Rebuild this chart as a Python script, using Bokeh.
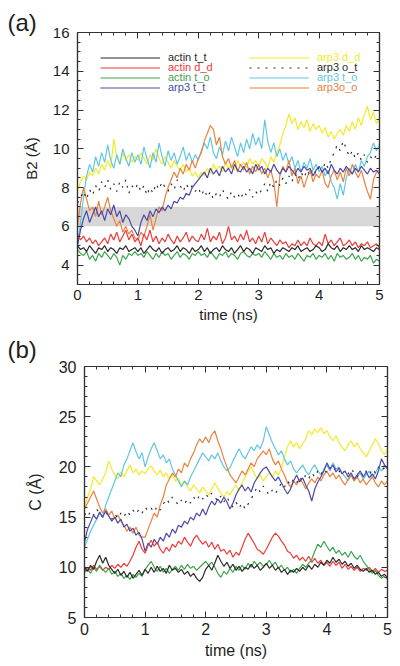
import numpy as np
from bokeh.plotting import figure
from bokeh.layouts import column, row
from bokeh.models import (Range1d, LinearAxis, SingleIntervalTicker, BoxAnnotation,
                          Legend, LegendItem, CustomJSTickFormatter)
from bokeh.embed import file_html
from bokeh.resources import INLINE

FONT = "Liberation Sans"
AXC = "#333333"

# ---------------- data: panel (a), B2 distance (Å), sampled every 0.05 ns ----------------
DT = 0.05
a_actin_tt = [5.0, 4.8, 4.9, 4.7, 5.0, 4.8, 4.6, 4.9, 4.8, 5.0, 4.7, 4.9, 4.8, 4.6, 4.9, 4.8, 5.0, 4.7, 4.8, 4.9,
              4.7, 4.9, 4.6, 4.8, 5.0, 4.8, 4.7, 4.9, 4.6, 4.8, 4.9, 4.7, 4.8, 5.0, 4.7, 4.9, 4.8, 4.6, 4.9, 4.7,
              4.8, 5.0, 4.7, 4.9, 4.6, 4.8, 4.9, 4.7, 5.0, 4.8, 4.7, 4.9, 4.6, 4.8, 5.0, 4.7, 4.9, 4.8, 4.6, 4.9,
              4.8, 4.7, 5.0, 4.8, 4.9, 4.6, 4.8, 4.7, 4.9, 4.8, 4.7, 4.9, 4.8, 5.0, 4.7, 4.8, 4.9, 4.7, 4.8, 5.0,
              4.9, 4.7, 4.8, 5.1, 4.9, 4.8, 5.0, 4.7, 4.9, 4.8, 5.0, 4.8, 4.9, 4.7, 5.0, 4.8, 4.9, 4.8, 4.7, 4.9,
              4.8]
a_actin_dd = [5.6, 5.3, 5.5, 5.2, 5.4, 5.1, 5.3, 5.0, 5.2, 5.4, 5.1, 5.6, 5.3, 5.7, 5.2, 5.5, 5.8, 5.3, 5.6, 5.2,
              5.4, 5.0, 5.6, 5.3, 5.8, 5.2, 5.5, 5.1, 5.4, 5.2, 5.6, 5.3, 5.1, 5.5, 5.2, 5.4, 5.7, 5.2, 5.5, 5.3,
              5.2, 5.6, 5.3, 5.9, 5.2, 5.5, 5.3, 5.7, 5.1, 5.4, 6.0, 5.3, 5.5, 5.2, 5.6, 5.3, 5.8, 5.2, 5.4, 5.1,
              5.5, 5.2, 5.7, 5.1, 5.4, 5.2, 5.0, 5.3, 5.1, 5.2, 4.9, 5.1, 5.0, 5.3, 5.0, 5.2, 5.0, 5.4, 5.1, 5.0,
              5.2, 5.0, 5.6, 5.1, 5.3, 5.0, 5.2, 5.4, 5.0, 5.1, 5.3, 5.0, 5.2, 4.9, 5.1, 5.0, 5.2, 4.9, 5.0, 5.1,
              4.9]
a_actin_to = [4.8, 4.6, 4.5, 4.7, 4.3, 4.5, 4.2, 4.6, 4.4, 4.7, 4.5, 4.3, 4.6, 4.4, 4.0, 4.5, 4.3, 4.6, 4.5, 4.7,
              4.5, 4.6, 4.4, 4.7, 4.5, 4.3, 4.6, 4.4, 4.7, 4.5, 4.6, 4.3, 4.5, 4.7, 4.4, 4.6, 4.5, 4.3, 4.6, 4.5,
              4.7, 4.5, 4.6, 4.4, 4.7, 4.5, 4.3, 4.6, 4.5, 4.7, 4.4, 4.6, 4.5, 4.3, 4.6, 4.7, 4.5, 4.4, 4.6, 4.5,
              4.6, 4.4, 4.7, 4.5, 4.3, 4.6, 4.4, 4.5, 4.3, 4.6, 4.4, 4.5, 4.3, 4.6, 4.4, 4.2, 4.5, 4.4, 4.6, 4.3,
              4.5, 4.4, 4.6, 4.3, 4.5, 4.2, 4.6, 4.4, 4.5, 4.3, 4.4, 4.6, 4.3, 4.5, 4.2, 4.4, 4.3, 4.5, 4.1, 4.3,
              4.2]
a_arp3_tt = [5.0, 5.8, 6.4, 6.8, 6.2, 6.6, 7.0, 6.5, 6.8, 6.3, 6.9, 6.6, 7.1, 6.5, 6.8, 6.2, 6.6, 6.4, 6.0, 5.8,
             5.5, 6.2, 6.6, 6.3, 6.8, 6.5, 6.9, 6.7, 7.0, 6.8, 7.1, 6.9, 7.3, 7.2, 7.5, 7.4, 7.7, 7.6, 8.0, 8.2,
             8.4, 8.6, 8.8, 8.5, 9.0, 8.7, 8.9, 8.6, 9.1, 8.8, 9.0, 8.7, 9.2, 8.9, 8.8, 9.1, 8.8, 9.0, 8.7, 9.2,
             8.9, 9.1, 8.7, 9.0, 8.8, 9.2, 8.9, 8.7, 9.0, 8.8, 9.1, 8.9, 8.7, 9.0, 8.8, 9.1, 8.9, 9.0, 8.6, 8.9,
             9.1, 8.8, 9.0, 8.7, 9.2, 8.9, 8.7, 9.0, 8.8, 9.1, 8.9, 8.7, 9.0, 8.8, 9.1, 8.9, 8.7, 9.0, 8.8, 8.9,
             8.7]
a_arp3_dd = [7.8, 8.3, 8.6, 8.4, 8.8, 8.6, 9.0, 8.7, 9.2, 8.9, 9.4, 9.0, 10.5, 9.6, 9.2, 9.8, 9.4, 9.7, 9.3, 9.6,
             9.4, 9.8, 9.5, 9.2, 9.7, 9.4, 10.0, 9.5, 9.2, 9.6, 9.3, 9.0, 9.4, 9.1, 8.9, 9.2, 8.8, 9.0, 8.6, 8.8,
             8.5, 8.8, 8.6, 9.0, 8.7, 9.2, 8.9, 9.1, 8.8, 9.3, 9.0, 9.2, 8.9, 9.4, 9.1, 9.3, 9.0, 9.5, 9.2, 9.4,
             9.1, 9.5, 9.3, 9.0, 9.6, 9.3, 9.8, 10.2, 10.8, 11.2, 11.8, 11.3, 11.6, 11.0, 11.4, 11.1, 11.5, 10.9, 11.3, 11.0,
             11.2, 10.8, 11.1, 10.6, 10.9, 10.5, 10.8, 11.0, 10.7, 11.2, 10.9, 11.4, 11.0, 11.6, 11.2, 11.8, 12.2, 11.5, 11.9, 11.3,
             11.6]
a_arp3_ot = [7.2, 7.5, 7.8, 7.4, 7.9, 7.6, 8.1, 7.8, 8.3, 8.0, 8.4, 7.9, 8.2, 7.8, 8.3, 8.0, 8.4, 7.7, 8.1, 7.9,
             8.2, 7.8, 8.1, 7.6, 8.0, 7.7, 8.2, 7.9, 8.3, 8.0, 7.8, 8.2, 7.9, 8.4, 8.1, 7.8, 8.2, 7.9, 8.1, 7.8,
             8.0, 7.6, 7.9, 7.5, 7.8, 7.4, 7.7, 7.5, 7.9, 7.6, 7.4, 7.8, 7.5, 7.7, 7.4, 7.8, 7.6, 7.9, 7.5, 7.8,
             7.6, 7.9, 8.2, 7.8, 8.3, 8.0, 8.4, 8.1, 8.5, 8.2, 8.6, 8.3, 8.7, 8.4, 8.8, 8.5, 8.9, 8.6, 9.0, 8.7,
             9.1, 8.8, 9.3, 9.0, 9.5, 9.8, 10.2, 9.9, 10.4, 10.0, 9.6, 9.9, 9.5, 9.8, 9.4, 9.7, 9.3, 9.6, 9.4, 9.7,
             9.5]
a_arp3_to = [5.0, 6.2, 7.5, 8.6, 9.2, 8.8, 9.6, 9.1, 9.8, 9.3, 10.2, 9.4, 9.0, 9.7, 9.2, 10.0, 9.5, 9.1, 9.8, 9.3,
             9.7, 9.2, 10.1, 9.5, 9.0, 9.8, 9.3, 10.3, 9.6, 9.1, 9.9, 9.4, 9.8, 9.2, 9.6, 10.1, 9.4, 9.8, 9.3, 9.7,
             9.4, 9.9, 10.3, 10.0, 10.6, 9.8, 9.5, 10.1, 9.7, 10.4, 9.9, 10.6, 10.1, 9.6, 10.3, 9.8, 10.5, 10.0, 10.8, 10.2,
             10.6, 10.0, 11.5, 10.4, 9.8, 10.3, 9.6, 10.0, 9.4, 9.8, 9.2, 9.6, 9.0, 9.4, 8.8, 9.3, 9.0, 9.5, 8.9, 9.2,
             8.8, 9.1, 8.6, 8.9, 8.3, 8.0, 7.4, 8.2, 7.6, 8.5, 9.0, 8.7, 9.2, 8.8, 9.4, 9.1, 9.6, 9.8, 10.3, 9.9,
             10.2]
a_arp3o_o = [6.0, 7.2, 8.0, 7.4, 6.8, 7.0, 6.5, 7.3, 6.6, 7.0, 7.5, 6.8, 6.4, 6.0, 6.3, 5.7, 6.0, 5.6, 5.8, 5.4,
             5.3, 5.7, 5.5, 6.0, 6.6, 5.8, 6.4, 7.0, 6.8, 7.5, 8.0, 8.4, 8.8, 8.5, 9.0, 8.7, 9.2, 8.9, 9.4, 9.0,
             9.5, 9.8, 10.4, 10.8, 11.2, 11.0, 10.2, 10.6, 9.6, 9.2, 9.5, 9.0, 9.4, 8.8, 9.2, 8.9, 9.3, 8.7, 9.1, 8.8,
             9.2, 8.7, 9.0, 8.5, 8.9, 8.3, 7.0, 8.6, 9.1, 8.8, 9.4, 8.6, 9.0, 8.2, 8.6, 8.0, 8.5, 8.9, 8.3, 8.7,
             8.5, 8.9, 8.2, 8.0, 8.6, 8.9, 8.4, 8.8, 8.3, 9.0, 8.6, 9.2, 8.8, 8.5, 8.9, 8.3, 7.8, 7.4, 8.4, 8.8,
             8.9]

# ---------------- data: panel (b), C distance (Å) ----------------
b_actin_tt = [10.0, 9.6, 10.2, 9.8, 10.6, 11.2, 10.4, 11.0, 10.2, 9.8, 9.4, 9.8, 9.2, 9.6, 9.0, 9.5, 8.9, 9.3, 9.7, 9.2,
              9.8, 9.4, 10.0, 9.5, 10.1, 9.6, 9.9, 9.4, 10.2, 9.7, 9.9, 9.5, 9.8, 9.3, 9.6, 9.1, 9.4, 8.9, 8.6, 9.0,
              9.8, 10.2, 9.7, 10.4, 11.2, 10.6, 10.1, 10.5, 9.9, 10.3, 9.7, 10.1, 9.6, 10.0, 9.8, 10.3, 9.9, 10.2, 9.7, 10.0,
              10.4, 9.9, 10.2, 9.7, 10.0, 9.5, 9.8, 9.3, 9.7, 9.5, 9.9, 9.6, 10.0, 9.7, 10.2, 9.8, 10.3, 10.0, 10.5, 10.2,
              10.7, 10.4, 11.0, 10.5, 10.8, 10.3, 10.6, 10.1, 10.4, 9.9, 10.2, 9.8, 9.6, 9.9, 9.5, 9.7, 9.3, 9.5, 9.1, 9.3,
              9.0]
b_actin_dd = [9.6, 10.0, 9.7, 10.2, 9.8, 10.1, 9.7, 10.0, 9.8, 10.2, 9.9, 10.3, 10.0, 10.4, 10.1, 10.6, 11.2, 12.0, 12.6, 11.8,
              11.4, 12.2, 12.7, 12.1, 12.5, 11.8, 11.4, 12.0, 11.6, 12.3, 12.0, 12.6, 12.3, 13.0, 12.5, 12.1, 12.8, 13.2, 12.7, 12.3,
              12.6, 12.0, 12.5, 11.8, 12.3, 11.6, 11.8, 11.3, 11.7, 11.0, 11.5, 11.2, 12.0, 12.8, 13.4, 12.9, 12.4, 11.8, 11.6, 11.3,
              11.8, 12.4, 13.0, 13.4, 13.1, 12.6, 12.2, 11.6, 11.4, 10.9, 11.2, 10.7, 11.0, 10.6, 11.1, 10.5, 10.9, 10.4, 10.7, 10.2,
              10.5, 10.1, 10.6, 10.2, 10.5, 9.9, 10.3, 9.8, 10.1, 9.7, 10.0, 9.6, 9.9, 9.7, 10.0, 9.6, 9.9, 9.5, 9.8, 9.6,
              9.7]
b_actin_to = [9.5, 9.8, 9.4, 10.0, 9.6, 10.2, 9.8, 9.5, 9.9, 9.3, 9.6, 9.1, 9.4, 8.9, 9.2, 8.8, 9.3, 9.0, 9.4, 9.1,
              9.8, 10.2, 10.6, 10.0, 9.6, 10.1, 9.5, 9.9, 9.4, 9.8, 10.1, 9.7, 10.2, 9.8, 10.3, 9.9, 10.1, 9.7, 10.0, 10.3,
              10.6, 10.2, 10.5, 10.0, 9.4, 9.0, 9.6, 9.3, 9.9, 9.5, 10.1, 9.7, 10.2, 9.8, 10.4, 10.0, 10.6, 10.2, 10.5, 10.1,
              10.3, 10.7, 10.2, 10.5, 9.9, 10.2, 9.7, 10.0, 9.5, 9.8, 9.4, 9.9, 10.3, 10.0, 10.4, 10.8, 11.6, 12.3, 12.0, 12.6,
              12.1, 11.6, 12.0, 11.4, 11.7, 11.2, 11.5, 11.0, 11.6, 11.1, 10.8, 11.2, 10.6, 10.2, 9.8, 9.4, 9.7, 9.2, 8.9, 9.1,
              8.8]
b_arp3_tt = [12.5, 13.8, 14.5, 15.2, 14.8, 15.5, 15.0, 15.6, 15.1, 14.6, 15.0, 14.4, 14.8, 14.0, 14.3, 13.6, 13.9, 13.2, 13.5, 12.8,
             11.6, 12.4, 12.0, 12.8, 12.3, 13.0, 12.6, 13.4, 13.0, 13.8, 13.4, 14.2, 14.0, 14.6, 14.3, 15.0, 14.7, 15.4, 15.1, 15.8,
             15.2, 16.0, 16.6, 16.2, 16.8, 16.4, 17.0, 16.5, 15.8, 16.4, 17.2, 17.8, 18.2, 17.6, 18.0, 17.5, 18.4, 18.9, 19.4, 19.8,
             20.0, 19.5, 19.0, 18.6, 19.0, 18.4, 17.8, 17.3, 17.8, 18.6, 19.2, 18.5, 18.9, 18.2, 17.6, 16.6, 17.8, 18.5, 19.0, 19.6,
             20.4, 19.8, 20.2, 19.5, 19.9, 19.3, 19.6, 19.0, 19.4, 18.8, 19.2, 19.6, 19.0, 19.5, 18.9, 19.3, 18.8, 19.6, 20.8, 20.2,
             19.8]
b_arp3_dd = [16.0, 17.0, 17.8, 19.0, 18.6, 18.2, 18.8, 19.4, 20.6, 19.8, 19.2, 18.8, 19.5, 19.0, 19.6, 20.2, 19.4, 19.8, 19.2, 19.6,
             19.3, 19.8, 20.1, 19.6, 19.2, 19.7, 19.0, 19.4, 18.8, 19.2, 18.6, 18.9, 18.2, 18.6, 18.0, 17.6, 18.2, 17.8, 17.4, 18.0,
             17.6, 17.2, 17.8, 18.4, 17.9, 17.4, 17.0, 17.5, 17.2, 17.8, 18.2, 17.6, 18.4, 19.0, 19.6, 20.0, 19.4, 18.8, 19.2, 18.6,
             19.0, 19.4, 19.0, 19.6, 19.2, 19.8, 21.0, 22.0, 22.6, 22.0, 22.4, 21.8, 22.3, 22.8, 23.6, 23.2, 23.8, 23.4, 23.9, 23.3,
             23.6, 23.0, 22.6, 23.1, 22.4, 22.0, 21.6, 22.2, 22.6, 22.0, 22.4, 21.8, 21.4, 21.0, 21.6, 22.2, 22.8, 22.3, 21.6, 21.2,
             21.8]
b_arp3_ot = [15.4, 15.0, 15.6, 15.2, 15.8, 15.4, 15.0, 15.5, 15.1, 14.8, 15.3, 14.9, 15.4, 15.0, 15.6, 15.2, 15.7, 15.3, 15.8, 15.4,
             16.0, 15.6, 15.9, 15.5, 16.1, 15.7, 16.3, 16.8, 16.4, 17.0, 16.6, 16.2, 16.7, 16.3, 16.8, 16.4, 17.0, 16.6, 17.2, 16.8,
             17.3, 16.9, 17.4, 17.0, 16.6, 17.1, 16.5, 17.0, 16.4, 16.0, 16.5, 15.9, 16.4, 15.8, 16.3, 16.8, 17.4, 18.0, 17.5, 18.1,
             17.6, 17.2, 17.7, 17.3, 17.9, 18.4, 18.0, 18.6, 18.2, 18.8, 18.4, 19.0, 18.6, 19.2, 18.8, 19.4, 19.0, 19.6, 19.2, 19.8,
             19.4, 19.9, 19.5, 20.0, 19.6, 19.2, 19.7, 19.3, 19.8, 19.4, 19.0, 19.5, 19.1, 19.6, 19.2, 19.8, 19.4, 20.0, 19.6, 19.9,
             19.5]
b_arp3_to = [12.0, 12.8, 13.6, 14.2, 14.8, 15.4, 15.0, 16.2, 17.0, 17.8, 18.6, 19.4, 19.0, 20.2, 20.8, 21.6, 22.4, 21.5, 20.8, 21.4,
             20.0, 21.0, 21.8, 22.4, 21.6, 20.8, 21.2, 20.4, 20.8, 19.8, 19.2, 18.6, 18.0, 18.6, 18.2, 19.0, 19.6, 20.2, 20.8, 21.4,
             21.0, 20.6, 21.2, 20.8, 21.4, 20.6, 20.0, 19.6, 19.9, 20.6, 21.2, 21.8, 21.2, 20.8, 21.4, 22.0, 21.6, 22.2, 21.8, 22.6,
             24.0, 23.2, 22.4, 21.8, 21.2, 21.6, 20.8, 20.2, 20.6, 19.8, 19.4, 19.8, 20.2, 19.6, 19.2, 19.8, 20.2, 19.6, 19.2, 19.8,
             20.2, 19.6, 20.4, 19.8, 20.0, 19.4, 19.0, 18.6, 19.2, 18.6, 19.0, 19.4, 18.8, 19.2, 19.6, 19.0, 19.4, 20.0, 19.6, 20.2,
             19.8]
b_arp3o_o = [15.8, 16.4, 17.0, 17.6, 16.8, 16.0, 15.4, 15.8, 15.2, 15.6, 14.8, 15.2, 14.6, 14.2, 13.6, 14.0, 13.4, 14.0, 13.2, 13.0,
             13.0, 13.8, 14.6, 15.4, 15.0, 16.2, 17.0, 18.2, 18.8, 19.4, 19.0, 19.8, 19.4, 20.4, 20.0, 20.8, 21.4, 22.2, 22.8, 22.4,
             23.0, 22.4, 23.2, 23.6, 22.6, 21.8, 20.8, 20.0, 19.2, 18.8, 18.4, 19.0, 19.6, 19.2, 19.8, 20.4, 20.0, 20.8, 21.2, 21.6,
             21.2, 21.8, 20.8, 20.2, 20.6, 19.8, 19.2, 18.4, 18.0, 18.6, 18.2, 18.8, 18.4, 17.8, 18.4, 18.8, 18.4, 19.0, 18.6, 19.2,
             19.6, 19.0, 19.4, 18.8, 19.2, 18.6, 18.2, 18.8, 19.2, 18.6, 19.0, 18.4, 18.8, 18.2, 18.6, 19.0, 18.4, 18.0, 18.6, 18.2,
             18.6]

# series names (legend) and colours
names = ["actin t_t", "actin d_d", "actin t_o", "arp3 t_t",
         "arp3 d_d", "arp3 o_t", "arp3 t_o", "arp3o_o"]
colors = ["#2a2a2a", "#ec3b3b", "#3ea34e", "#4b49a6",
          "#f2ea2a", "#2a2a2a", "#62c6e2", "#e8823f"]
dashes = ["solid", "solid", "solid", "solid", "solid", "2 6", "solid", "solid"]
a_series = [a_actin_tt, a_actin_dd, a_actin_to, a_arp3_tt, a_arp3_dd, a_arp3_ot, a_arp3_to, a_arp3o_o]
b_series = [b_actin_tt, b_actin_dd, b_actin_to, b_arp3_tt, b_arp3_dd, b_arp3_ot, b_arp3_to, b_arp3o_o]
draw_order = [4, 6, 7, 5, 3, 1, 2, 0]

band_low, band_high = 6.0, 7.0   # shaded reference band in panel (a)

EMPTY = CustomJSTickFormatter(code="return ''")


def style_axis(ax, interval, nminor, labels=True, tick_size="15px", lab_size="15px", standoff=6, lab_standoff=6):
    ax.ticker = SingleIntervalTicker(interval=interval, num_minor_ticks=nminor)
    ax.major_tick_in = 6
    ax.major_tick_out = 0
    ax.minor_tick_in = 3
    ax.minor_tick_out = 0
    ax.axis_line_color = AXC
    ax.axis_line_width = 1.2
    ax.major_tick_line_color = AXC
    ax.minor_tick_line_color = AXC
    ax.major_label_text_font = FONT
    ax.major_label_text_color = "#1e1e1e"
    ax.axis_label_text_font = FONT
    ax.axis_label_text_font_style = "normal"
    ax.axis_label_text_color = "#1e1e1e"
    ax.axis_label_text_font_size = lab_size
    ax.axis_label_standoff = lab_standoff
    ax.major_label_text_font_size = tick_size
    if labels:
        ax.major_label_standoff = standoff
    else:
        ax.formatter = EMPTY
        ax.major_label_standoff = 0


def make_panel(series, yr, yint, yminor, ylabel, fw, fh, bl, br, bt, bb, tick_size, lab_size,
               xstand, xlabstand, ystand, ylabstand, tag, tag_standoff, tag_valign):
    p = figure(frame_width=fw, frame_height=fh, min_border_left=bl, min_border_right=br,
               min_border_top=bt, min_border_bottom=bb,
               x_range=Range1d(0, 5), y_range=Range1d(*yr),
               output_backend="svg", toolbar_location=None)
    p.title.text = tag
    p.title.align = "left"
    p.title.offset = 7 - bl
    p.title.standoff = tag_standoff
    p.title.vertical_align = tag_valign
    p.title.text_font = FONT
    p.title.text_font_size = "24px"
    p.title.text_font_style = "normal"
    p.title.text_color = "#1e1e1e"
    p.xgrid.visible = False
    p.ygrid.visible = False
    p.outline_line_color = AXC
    p.outline_line_width = 1.2
    p.background_fill_color = "white"
    p.border_fill_color = "white"
    style_axis(p.xaxis[0], 1, 5, True, tick_size, lab_size, xstand, xlabstand)
    p.xaxis[0].axis_label = "time (ns)"
    style_axis(p.yaxis[0], yint, yminor, True, tick_size, lab_size, ystand, ylabstand)
    p.yaxis[0].axis_label = ylabel
    top = LinearAxis()
    style_axis(top, 1, 5, False)
    p.add_layout(top, "above")
    right = LinearAxis()
    style_axis(right, yint, yminor, False)
    p.add_layout(right, "right")
    rends = {}
    for i in draw_order:
        ys = series[i]
        ts = [k * DT for k in range(len(ys))]
        rends[i] = p.line(ts, ys, line_color=colors[i], line_width=1.2, line_dash=dashes[i])
    return p, rends


# ---------------- panel (a) ----------------
HA = 327
pa, ra = make_panel(a_series, (3, 16), 2, 4, "B2 (Å)", 302, 252, 77, 12, 32, HA - 32 - 252,
                    "15px", "15px", 5, 3, 8, 10, "(a)", -6, "bottom")
pa.add_layout(BoxAnnotation(bottom=band_low, top=band_high, fill_color="#d7d7d7", fill_alpha=1.0,
                            line_alpha=0, level="underlay"))

# legend: two columns of four, each label in its series colour
row_y = [57, 67, 77, 87]          # page y of rows
col_x = [100 - 77, 249 - 77]      # frame-relative x of line samples
for i in range(8):
    c = i // 4
    r = i % 4
    lg = Legend(items=[LegendItem(label=names[i], renderers=[ra[i]])],
                location=(col_x[c], (284 - row_y[r]) - 6),
                glyph_width=60, glyph_height=9, label_height=9, label_standoff=8,
                label_text_font=FONT, label_text_font_size="11px", label_text_color=colors[i],
                padding=0, margin=0, spacing=0,
                background_fill_alpha=0, border_line_alpha=0)
    pa.add_layout(lg)

# ---------------- panel (b) ----------------
BT = 366 - HA
HB = BT + 251 + 42
pb, rb = make_panel(b_series, (5, 30), 5, 5, "C (Å)", 303, 251, 84, 10, BT, HB - BT - 251,
                    "16px", "16px", 5, 4, 8, 12, "(b)", 8, "bottom")

layout = column(row(pa), row(pb))
open("out.html", "w").write(file_html(layout, INLINE))
